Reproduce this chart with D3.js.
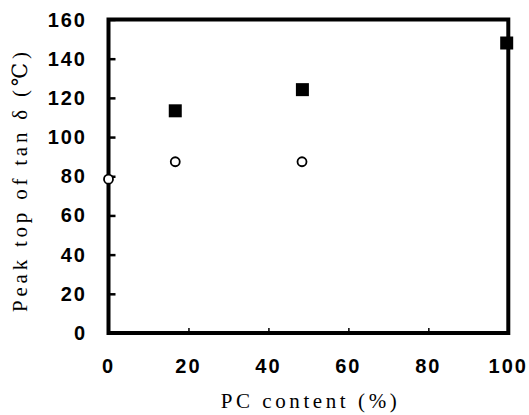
<!DOCTYPE html>
<html><head><meta charset="utf-8">
<script src="https://cdn.jsdelivr.net/npm/d3@7/dist/d3.min.js"></script>
<style>body{margin:0;background:#fff}svg{display:block}</style>
</head><body>
<svg id="c" width="529" height="415"></svg>
<script>
const xTicks = [0, 20, 40, 60, 80, 100];
const yTicks = [0, 20, 40, 60, 80, 100, 120, 140, 160];
const circleX = [0, 16.7, 48.4];
const circleY = [78.5, 87.4, 87.4];
const squareX = [16.7, 48.5, 99.6];
const squareY = [113.4, 124.2, 148];

const svg = d3.select("#c");
const x = d3.scaleLinear().domain([0, 100]).range([108.5, 508.3]);
const y = d3.scaleLinear().domain([0, 160]).range([333, 19.5]);

// ticks
const gy = svg.append("g").attr("transform", `translate(${x(0)},0)`)
  .call(d3.axisRight(y).tickValues(yTicks).tickSize(7).tickFormat(""));
gy.select(".domain").remove();
gy.selectAll("line").attr("stroke", "#000").attr("stroke-width", 2.5);
const gx = svg.append("g").attr("transform", `translate(0,${y(0)})`)
  .call(d3.axisTop(x).tickValues(xTicks).tickSize(5).tickFormat(""));
gx.select(".domain").remove();
gx.selectAll("line").attr("stroke", "#000").attr("stroke-width", 1.5);

// frame
svg.append("rect").attr("x", x(0)).attr("y", y(160))
  .attr("width", x(100) - x(0)).attr("height", y(0) - y(160))
  .attr("fill", "none").attr("stroke", "#000").attr("stroke-width", 4);

// tick labels
const ls = 2;
svg.append("g").selectAll("text").data(yTicks).join("text")
  .attr("x", 85 + ls).attr("y", d => y(d)).attr("text-anchor", "end")
  .attr("dominant-baseline", "central")
  .style("font", "bold 20px 'Liberation Sans', Arial, sans-serif")
  .style("letter-spacing", ls + "px").text(d => d);
svg.append("g").selectAll("text").data(xTicks).join("text")
  .attr("x", d => x(d) + ls / 2 - 1).attr("y", 366).attr("text-anchor", "middle")
  .attr("dominant-baseline", "central")
  .style("font", "bold 20px 'Liberation Sans', Arial, sans-serif")
  .style("letter-spacing", ls + "px").text(d => d);

// axis titles
svg.append("text").attr("x", 308.7).attr("y", 401).attr("text-anchor", "middle")
  .attr("dominant-baseline", "central")
  .attr("textLength", 176).attr("lengthAdjust", "spacing")
  .style("font", "21px 'Liberation Serif', 'DejaVu Serif', serif")
  .text("PC content (%)");
svg.append("text").attr("transform", "translate(20,182) rotate(-90)")
  .attr("text-anchor", "middle").attr("dominant-baseline", "central")
  .attr("textLength", 260).attr("lengthAdjust", "spacing")
  .style("font", "21px 'Liberation Serif', 'DejaVu Serif', serif")
  .text("Peak top of tan δ (℃)");

// squares
const s = 13;
svg.append("g").selectAll("rect").data(squareX).join("rect")
  .attr("x", (d) => x(d) - s / 2).attr("y", (d, i) => y(squareY[i]) - s / 2)
  .attr("width", s).attr("height", s).attr("fill", "#000");
// circles
svg.append("g").selectAll("circle").data(circleX).join("circle")
  .attr("cx", d => x(d)).attr("cy", (d, i) => y(circleY[i])).attr("r", 4.5)
  .attr("fill", "#fff").attr("stroke", "#000").attr("stroke-width", 1.8);
</script>
</body></html>
